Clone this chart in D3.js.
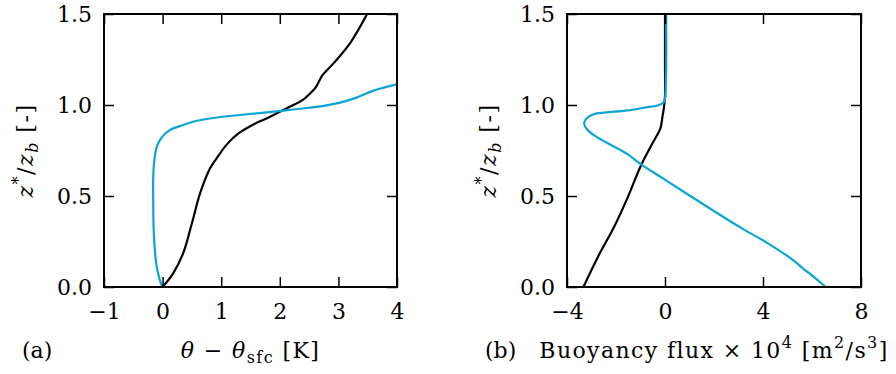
<!DOCTYPE html>
<html>
<head>
<meta charset="utf-8">
<script src="https://cdn.jsdelivr.net/npm/d3@7"></script>
<style>
  html, body { margin: 0; padding: 0; background: #fff; }
  svg text { font-family: "DejaVu Serif", "Liberation Serif", serif; fill: #000; }
</style>
</head>
<body>
<svg id="chart" width="896" height="374"></svg>
<script>
// (a) potential temperature excess profiles: [theta - theta_sfc (K), z*/z_b]
const thetaBlack = [
  [0.00, 0.000], [0.18, 0.075], [0.35, 0.185], [0.50, 0.350], [0.64, 0.515],
  [0.81, 0.652], [0.95, 0.720], [1.10, 0.785], [1.30, 0.845], [1.55, 0.893],
  [1.80, 0.930], [2.06, 0.973], [2.40, 1.030], [2.52, 1.065], [2.61, 1.095],
  [2.67, 1.130], [2.72, 1.160], [2.92, 1.230], [3.20, 1.340], [3.49, 1.500]
];
const thetaBlue = [
  [-0.01, 0.000], [-0.10, 0.110], [-0.15, 0.295], [-0.16, 0.480], [-0.16, 0.600],
  [-0.14, 0.700], [-0.10, 0.770], [-0.04, 0.810], [0.05, 0.845], [0.15, 0.867],
  [0.35, 0.890], [0.52, 0.908], [0.90, 0.930], [1.32, 0.945], [2.06, 0.969],
  [2.50, 0.985], [2.80, 0.998], [3.03, 1.013], [3.32, 1.042], [3.60, 1.079],
  [4.00, 1.113]
];
// (b) buoyancy flux profiles: [flux x 1e4 (m^2/s^3), z*/z_b]
const fluxBlack = [
  [-3.33, 0.000], [-2.76, 0.160], [-2.08, 0.330], [-1.53, 0.490], [-0.99, 0.665],
  [-0.55, 0.780], [-0.28, 0.845], [-0.18, 0.875], [-0.11, 0.930], [-0.03, 1.000],
  [0.00, 1.050], [0.00, 1.200], [0.00, 1.500]
];
const fluxBlue = [
  [6.56, 0.000], [5.95, 0.070], [5.67, 0.097], [5.27, 0.144], [4.20, 0.240],
  [3.09, 0.326], [1.50, 0.460], [-0.04, 0.593], [-0.99, 0.675], [-1.53, 0.730],
  [-2.20, 0.780], [-2.76, 0.822], [-3.10, 0.855], [-3.24, 0.877], [-3.30, 0.900],
  [-3.26, 0.916], [-3.12, 0.935], [-2.90, 0.950], [-2.20, 0.962], [-1.53, 0.970],
  [-0.86, 0.985], [-0.24, 1.000], [-0.05, 1.015], [0.00, 1.033], [0.03, 1.100],
  [0.05, 1.200], [0.05, 1.500]
];

const xTicksA = [-1, 0, 1, 2, 3, 4];
const xTicksB = [-4, 0, 4, 8];
const yTicks = [0, 0.5, 1.0, 1.5];

const svg = d3.select("#chart");
const FONT = 22;
const SMALL = 16;
const TICK = 10;
const COLORS = { black: "#000000", blue: "#0aa5d8" };

const panels = [
  { id: "a", left: 104, right: 397, xDomain: [-1, 4], xTicks: xTicksA, xFmt: d3.format("d"),
    series: [thetaBlack, thetaBlue] },
  { id: "b", left: 567, right: 861, xDomain: [-4, 8], xTicks: xTicksB, xFmt: d3.format("d"),
    series: [fluxBlack, fluxBlue] }
];
const plotTop = 14, plotBottom = 287;

panels.forEach(p => {
  const w = p.right - p.left, h = plotBottom - plotTop;
  const x = d3.scaleLinear().domain(p.xDomain).range([0, w]);
  const y = d3.scaleLinear().domain([0, 1.5]).range([h, 0]);
  const g = svg.append("g").attr("transform", `translate(${p.left},${plotTop})`);

  g.append("clipPath").attr("id", "clip-" + p.id)
    .append("rect").attr("width", w).attr("height", h);

  const line = d3.line().x(d => x(d[0])).y(d => y(d[1])).curve(d3.curveCatmullRom.alpha(0.5));
  [COLORS.black, COLORS.blue].forEach((c, i) => {
    g.append("path").datum(p.series[i])
      .attr("clip-path", `url(#clip-${p.id})`)
      .attr("fill", "none").attr("stroke", c)
      .attr("stroke-width", 2.2).attr("stroke-linejoin", "round")
      .attr("d", line);
  });

  const styleAxis = sel => {
    sel.attr("font-family", null).attr("font-size", null);
    sel.select(".domain").remove();
    sel.selectAll(".tick line").attr("stroke", "#000").attr("stroke-width", 1.5);
    sel.selectAll(".tick text").style("font-size", FONT + "px");
  };

  g.append("g").attr("transform", `translate(0,${h})`)
    .call(d3.axisBottom(x).tickValues(p.xTicks).tickFormat(p.xFmt).tickSize(-TICK).tickPadding(16))
    .call(styleAxis);
  g.append("g")
    .call(d3.axisTop(x).tickValues(p.xTicks).tickFormat("").tickSize(-TICK))
    .call(styleAxis);
  g.append("g")
    .call(d3.axisLeft(y).tickValues(yTicks).tickFormat(d3.format(".1f")).tickSize(-TICK).tickPadding(12))
    .call(styleAxis);
  g.append("g").attr("transform", `translate(${w},0)`)
    .call(d3.axisRight(y).tickValues(yTicks).tickFormat("").tickSize(-TICK))
    .call(styleAxis);

  g.append("rect").attr("width", w).attr("height", h)
    .attr("fill", "none").attr("stroke", "#000").attr("stroke-width", 2);

  // y-axis title: z*/z_b [-]
  const yt = svg.append("text")
    .attr("transform", `translate(${p.left - 71},${plotTop + h / 2}) rotate(-90)`)
    .attr("text-anchor", "middle").style("font-size", FONT + "px")
    .style("letter-spacing", "1.5px");
  yt.append("tspan").attr("font-style", "italic").text("z");
  yt.append("tspan").attr("dy", -9).style("font-size", SMALL + "px").text("*");
  yt.append("tspan").attr("dy", 9).text("/");
  yt.append("tspan").attr("font-style", "italic").text("z");
  yt.append("tspan").attr("dy", 5).attr("font-style", "italic").style("font-size", SMALL + "px").text("b");
  yt.append("tspan").attr("dy", -5).text("\u00a0[-]");

  // panel tag
  svg.append("text").attr("x", p.left - 82).attr("y", 358)
    .style("font-size", FONT + "px").text(`(${p.id})`);

  // x-axis title
  const xt = svg.append("text").attr("x", p.left + w / 2).attr("y", 358)
    .attr("text-anchor", "middle").style("font-size", FONT + "px")
    .style("letter-spacing", "1.4px");
  if (p.id === "a") {
    xt.append("tspan").attr("font-style", "italic").text("θ");
    xt.append("tspan").text(" − ");
    xt.append("tspan").attr("font-style", "italic").text("θ");
    xt.append("tspan").attr("dy", 5).style("font-size", SMALL + "px").text("sfc");
    xt.append("tspan").attr("dy", -5).text("\u00a0[K]");
  } else {
    xt.append("tspan").text("Buoyancy flux × 10");
    xt.append("tspan").attr("dy", -10).style("font-size", SMALL + "px").text("4");
    xt.append("tspan").attr("dy", 10).text("\u00a0[m");
    xt.append("tspan").attr("dy", -10).style("font-size", SMALL + "px").text("2");
    xt.append("tspan").attr("dy", 10).text("/s");
    xt.append("tspan").attr("dy", -10).style("font-size", SMALL + "px").text("3");
    xt.append("tspan").attr("dy", 10).text("]");
  }
});
</script>
</body>
</html>
